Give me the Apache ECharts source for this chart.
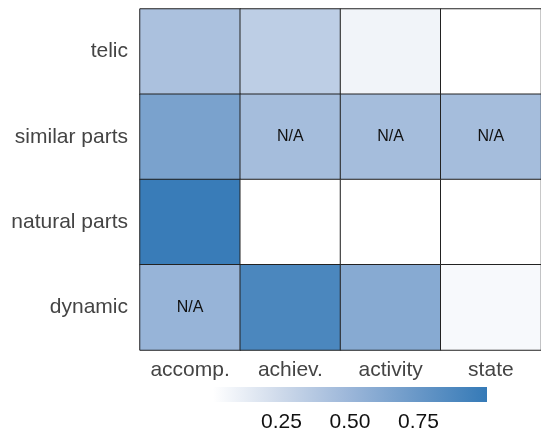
<!DOCTYPE html>
<html>
<head>
<meta charset="utf-8">
<script src="https://cdn.jsdelivr.net/npm/echarts@6/dist/echarts.min.js"></script>
<style>
  html, body { margin: 0; padding: 0; background: #fff; }
  #chart { width: 541px; height: 435px; }
</style>
</head>
<body>
<div id="chart"></div>
<script>
const xCats = ['accomp.', 'achiev.', 'activity', 'state'];
const yCats = ['telic', 'similar parts', 'natural parts', 'dynamic'];

// one row per y category, values by x category
const telicVals = [0.42, 0.33, 0.07, 0.0];
const similarVals = [0.66, 0.45, 0.45, 0.45];
const naturalVals = [0.98, 0.0, 0.0, 0.0];
const dynamicVals = [0.52, 0.89, 0.60, 0.04];
const rows = [telicVals, similarVals, naturalVals, dynamicVals];

// cells marked N/A, as [x, y]
const naCells = [[1, 1], [2, 1], [3, 1], [0, 3]];

const colorStops = ['#ffffff', '#cdd9ea', '#9bb6d9', '#6897c7', '#357ab7'];
const barTicks = [0.25, 0.5, 0.75];

const font = '"Liberation Sans", Arial, Helvetica, sans-serif';

const cells = [];
rows.forEach((row, y) => {
  row.forEach((v, x) => cells.push([x, y, v]));
});
const isNA = (x, y) => naCells.some(c => c[0] === x && c[1] === y);

const chart = echarts.init(document.getElementById('chart'));

const option = {
  backgroundColor: '#fff',
  animation: false,
  textStyle: { fontFamily: font },
  grid: [
    { left: 140, top: 9, width: 404, height: 341 },
    {
      left: 213, top: 387, width: 274, height: 15,
      show: true, borderWidth: 0,
      backgroundColor: {
        type: 'linear', x: 0, y: 0, x2: 1, y2: 0,
        colorStops: colorStops.map((c, i) => ({ offset: i / (colorStops.length - 1), color: c }))
      }
    }
  ],
  xAxis: [
    {
      type: 'category', data: xCats, gridIndex: 0,
      axisLine: { show: false }, axisTick: { show: false }, splitLine: { show: false },
      axisLabel: { interval: 0, fontSize: 21, color: '#444', margin: 10, fontFamily: font }
    },
    {
      type: 'value', gridIndex: 1, min: 0, max: 1, interval: 0.25,
      axisLine: { show: false }, axisTick: { show: false }, splitLine: { show: false },
      axisLabel: {
        fontSize: 21, color: '#111', margin: 10, fontFamily: font,
        formatter: v => barTicks.some(t => Math.abs(t - v) < 1e-6) ? v.toFixed(2) : ''
      }
    }
  ],
  yAxis: [
    {
      type: 'category', data: yCats, gridIndex: 0, inverse: true,
      axisLine: { show: false }, axisTick: { show: false }, splitLine: { show: false },
      axisLabel: {
        interval: 0, fontSize: 21, color: '#444', margin: 12, fontFamily: font,
        padding: [6, 0, 0, 0]
      }
    },
    {
      type: 'value', gridIndex: 1, show: false, min: 0, max: 1
    }
  ],
  visualMap: {
    show: false, min: 0, max: 1, dimension: 2, seriesIndex: 0,
    inRange: { color: colorStops }
  },
  series: [
    {
      type: 'heatmap',
      xAxisIndex: 0, yAxisIndex: 0,
      data: cells,
      itemStyle: { borderColor: '#222', borderWidth: 1 },
      label: {
        show: true, fontSize: 16, color: '#111', fontFamily: font,
        padding: [5, 0, 0, 0],
        formatter: p => isNA(p.value[0], p.value[1]) ? 'N/A' : ''
      },
      emphasis: { disabled: true }
    }
  ]
};

chart.setOption(option);
</script>
</body>
</html>
